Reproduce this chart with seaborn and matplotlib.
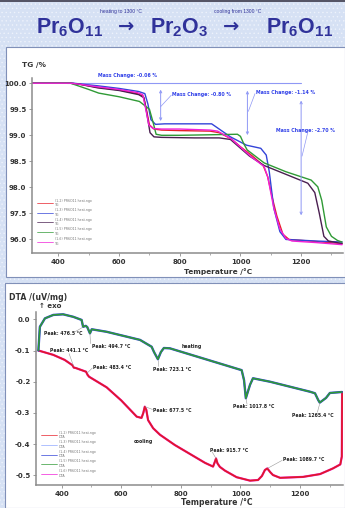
import numpy as np
import pandas as pd
import matplotlib
matplotlib.use("Agg")
import matplotlib.pyplot as plt
import seaborn as sns
from matplotlib.patches import Rectangle
from matplotlib.lines import Line2D
from matplotlib.ticker import MultipleLocator

# ---------------- TG data (temperature in degC, mass in %) ----------------
tg_red_T = [313, 440, 470, 530, 600, 660, 680, 690, 700, 715, 740, 800, 900, 930, 970, 1000, 1040, 1075, 1090, 1105, 1120, 1140, 1160, 1250, 1335]
tg_red_v = [100, 100, 99.98, 99.92, 99.87, 99.8, 99.75, 99.5, 99.2, 99.12, 99.1, 99.09, 99.08, 99.05, 98.93, 98.78, 98.6, 98.42, 98.2, 97.8, 97.45, 97.1, 97.0, 96.96, 96.92]

tg_mag_T = [313, 440, 470, 530, 600, 660, 678, 688, 698, 712, 740, 800, 900, 925, 970, 1035, 1078, 1090, 1110, 1130, 1150, 1170, 1250, 1335]
tg_mag_v = [100, 100, 99.98, 99.93, 99.88, 99.82, 99.78, 99.5, 99.2, 99.13, 99.12, 99.12, 99.1, 99.08, 98.93, 98.59, 98.4, 98.2, 97.6, 97.2, 97.02, 96.97, 96.94, 96.9]

tg_blue_T = [313, 450, 480, 530, 600, 665, 685, 695, 705, 720, 750, 850, 905, 920, 967, 1020, 1067, 1085, 1095, 1110, 1130, 1150, 1250, 1335]
tg_blue_v = [100, 100, 99.98, 99.95, 99.9, 99.84, 99.8, 99.6, 99.3, 99.21, 99.22, 99.22, 99.22, 99.16, 98.97, 98.81, 98.75, 98.62, 98.3, 97.6, 97.15, 97.0, 96.97, 96.95]

tg_green_T = [313, 440, 470, 500, 533, 600, 667, 700, 712, 722, 740, 800, 900, 990, 1000, 1010, 1022, 1078, 1150, 1233, 1255, 1268, 1283, 1300, 1320, 1335]
tg_green_v = [100, 100, 99.94, 99.88, 99.81, 99.74, 99.65, 99.5, 99.25, 99.02, 99.0, 99.0, 99.01, 99.02, 98.98, 98.85, 98.72, 98.47, 98.3, 98.14, 98.01, 97.75, 97.24, 97.06, 96.98, 96.95]

tg_dark_T = [313, 440, 470, 530, 600, 665, 682, 692, 702, 715, 740, 850, 930, 967, 1030, 1078, 1150, 1222, 1245, 1260, 1275, 1290, 1335]
tg_dark_v = [100, 100, 99.98, 99.91, 99.86, 99.78, 99.72, 99.4, 99.05, 98.97, 98.96, 98.95, 98.95, 98.92, 98.6, 98.42, 98.25, 98.08, 97.9, 97.5, 97.06, 96.97, 96.92]

tg_yticks = [100.0, 99.5, 99.0, 98.5, 98.0, 97.5, 97.0]
tg_ylabels = ["100.0", "99.5", "99.0", "98.5", "98.0", "97.5", "96.0"]

# ---------------- DTA data (uV/mg) ----------------
dta_heat_T = [322, 327, 344, 372, 405, 439, 467, 472, 481, 486, 495, 501, 551, 663, 702, 710, 723, 733, 743, 763,
              1004, 1012, 1018, 1032, 1042, 1099, 1233, 1250, 1261, 1266, 1287, 1300, 1340]
dta_heat_v = [-0.10, -0.024, 0.003, 0.014, 0.016, 0.008, -0.002, -0.024, -0.021, -0.025, -0.045, -0.032, -0.04, -0.066, -0.088, -0.105, -0.128, -0.105, -0.092, -0.093,
              -0.163, -0.195, -0.253, -0.21, -0.189, -0.20, -0.232, -0.237, -0.259, -0.267, -0.252, -0.236, -0.233]

dta_cool_T = [322, 340, 372, 410, 436, 441, 447, 482, 487, 492, 551, 600, 652, 668, 674, 679, 684, 690, 707, 730, 780, 881,
              908, 914, 918, 923, 931, 948, 987, 1032, 1059, 1072, 1082, 1090, 1100, 1109, 1133, 1210, 1267, 1310, 1335, 1340, 1341]
dta_cool_v = [-0.10, -0.105, -0.114, -0.13, -0.147, -0.155, -0.156, -0.168, -0.178, -0.184, -0.218, -0.26, -0.312, -0.316, -0.30, -0.28, -0.29, -0.323, -0.349, -0.37, -0.403, -0.46,
              -0.472, -0.457, -0.446, -0.462, -0.473, -0.485, -0.506, -0.517, -0.515, -0.502, -0.483, -0.478, -0.49, -0.499, -0.508, -0.505, -0.496, -0.478, -0.465, -0.44, -0.233]

dta_yticks = [0.0, -0.1, -0.2, -0.3, -0.4, -0.5]
dta_ylabels = ["0.0", "-0.1", "-0.2", "-0.3", "-0.4", "-0.5"]
x_ticks = [400, 600, 800, 1000, 1200]

tg_legend = ["(1-2) PR6O11 heat.ngo\nTG", "(1-3) PR6O11 heat.ngo\nTG", "(1-4) PR6O11 heat.ngo\nTG",
             "(1-5) PR6O11 heat.ngo\nTG", "(1-6) PR6O11 heat.ngo\nTG"]
dta_legend = ["(1-2) PR6O11 heat.ngo\nDTA", "(1-3) PR6O11 heat.ngo\nDTA", "(1-4) PR6O11 heat.ngo\nDTA",
              "(1-5) PR6O11 heat.ngo\nDTA", "(1-6) PR6O11 heat.ngo\nDTA"]

C_RED, C_BLUE, C_DARK, C_GREEN, C_MAG = "#e8202a", "#3344d8", "#4a1f50", "#2f9a35", "#f020d8"
TITLE_C = "#30329a"
ANN_C = "#3040e8"

sns.set_theme(style="ticks")
plt.rcParams['font.family'] = ['DejaVu Sans']
plt.rcParams['hatch.linewidth'] = 0.5
plt.rcParams['mathtext.fontset'] = 'custom'
plt.rcParams['mathtext.rm'] = 'Liberation Sans'
plt.rcParams['mathtext.bf'] = 'Liberation Sans:bold'
plt.rcParams['mathtext.it'] = 'Liberation Sans:italic'

W, H = 345, 508
fig = plt.figure(figsize=(W / 100, H / 100), dpi=100)
fig.patch.set_facecolor('#d6e1f4')

def fx(x):
    return x / W

def fy(y):
    return 1 - y / H

fig.patches.append(Rectangle((0, 0), 1, 1, transform=fig.transFigure, facecolor='none',
                             edgecolor='#edf2fb', hatch='....', lw=0, zorder=-3))
fig.patches.append(Rectangle((0, fy(1.5)), 1, 1.5 / H, transform=fig.transFigure,
                             facecolor='#555566', lw=0, zorder=-2))
fig.patches.append(Rectangle((fx(6), fy(277)), fx(345) - fx(6), (277 - 47) / H, transform=fig.transFigure,
                             facecolor='white', edgecolor='#8090b8', lw=0.8, zorder=-1))
fig.patches.append(Rectangle((fx(5), fy(508)), fx(345) - fx(5), (508 - 283) / H, transform=fig.transFigure,
                             facecolor='white', edgecolor='#8090b8', lw=0.8, zorder=-1))

# ---------------- Title ----------------
TB = dict(ha='center', va='baseline', fontsize=15.5, color=TITLE_C)
fig.text(fx(70), fy(33), r"$\mathbf{Pr_6O_{11}}$", **TB)
fig.text(fx(126), fy(32), "→", ha='center', va='baseline', fontsize=14, fontweight='bold', color=TITLE_C)
fig.text(fx(179), fy(33), r"$\mathbf{Pr_2O_3}$", **TB)
fig.text(fx(231), fy(32), "→", ha='center', va='baseline', fontsize=14, fontweight='bold', color=TITLE_C)
fig.text(fx(300), fy(33), r"$\mathbf{Pr_6O_{11}}$", **TB)
fig.text(fx(121), fy(11), "heating to 1300 °C", ha='center', va='center', fontsize=3.6,
         family='Liberation Sans', color=TITLE_C)
fig.text(fx(238), fy(11), "cooling from 1300 °C", ha='center', va='center', fontsize=3.6,
         family='Liberation Sans', color=TITLE_C)


def style_axes(ax):
    ax.set_facecolor('none')
    for s in ['top', 'right']:
        ax.spines[s].set_visible(False)
    for s in ['left', 'bottom']:
        ax.spines[s].set_color('#8c8c8c')
        ax.spines[s].set_linewidth(1.1)
    ax.tick_params(axis='both', which='major', length=2.5, width=0.6, color='#8c8c8c', pad=1.5,
                   labelsize=5, labelcolor='#333333')
    ax.tick_params(axis='both', which='minor', length=1.5, width=0.5, color='#8c8c8c')
    for lab in ax.get_xticklabels() + ax.get_yticklabels():
        lab.set_fontweight('bold')
    ax.xaxis.set_minor_locator(MultipleLocator(100))


# ---------------- TG axes ----------------
ax1 = fig.add_axes([fx(32), fy(253), (343 - 32) / W, (253 - 78) / H])
tg_series = [(tg_red_T, tg_red_v, C_RED), (tg_blue_T, tg_blue_v, C_BLUE), (tg_dark_T, tg_dark_v, C_DARK),
             (tg_green_T, tg_green_v, C_GREEN), (tg_mag_T, tg_mag_v, C_MAG)]
for (T, v, c), lab in zip(tg_series, tg_legend):
    sns.lineplot(x=T, y=v, ax=ax1, color=c, lw=1.0, sort=False, label=lab)
ax1.set_xlim(313, 1338)
ax1.set_ylim(96.74, 100.1)
ax1.set_xticks(x_ticks)
ax1.set_xticklabels([str(t) for t in x_ticks])
ax1.set_yticks(tg_yticks)
ax1.set_yticklabels(tg_ylabels)
style_axes(ax1)
ax1.set_xlabel("Temperature /°C", fontsize=5.3, fontweight='bold', color='#333333', labelpad=1)
ax1.xaxis.set_label_coords((218 - 32) / 311, -0.085)
ax1.set_ylabel("")
leg1 = ax1.legend(loc='lower left', bbox_to_anchor=(0.01, 0.03), fontsize=2.3, frameon=False,
                  handlelength=5, handletextpad=0.4, labelspacing=0.3, borderpad=0.2)
for t in leg1.get_texts():
    t.set_color('#777777')
for l in leg1.get_lines():
    l.set_linewidth(0.5)
fig.text(fx(22), fy(65), "TG /%", fontsize=5.3, fontweight='bold', color='#333333', va='center')

# Mass-change annotations
ax1.plot([430, 1200], [100.0, 100.0], color='#8f98f5', lw=0.8, zorder=1)
ax1.text(529, 100.14, "Mass Change: -0.06 %", fontsize=3.4, color=ANN_C, fontweight='bold', va='center', clip_on=False)
ax1.annotate("", xy=(737, 99.22), xytext=(737, 99.93),
             arrowprops=dict(arrowstyle='<->', color='#8f98f5', lw=0.7, mutation_scale=4))
ax1.plot([737, 772], [99.55, 99.77], color='#8f98f5', lw=0.5)
ax1.text(776, 99.79, "Mass Change: -0.80 %", fontsize=3.4, color=ANN_C, fontweight='bold', va='center')
ax1.annotate("", xy=(1023, 98.95), xytext=(1023, 99.91),
             arrowprops=dict(arrowstyle='<->', color='#8f98f5', lw=0.7, mutation_scale=4))
ax1.plot([1026, 1048], [99.46, 99.8], color='#8f98f5', lw=0.5)
ax1.text(1052, 99.82, "Mass Change: -1.14 %", fontsize=3.4, color=ANN_C, fontweight='bold', va='center')
ax1.annotate("", xy=(1200, 97.41), xytext=(1200, 99.72),
             arrowprops=dict(arrowstyle='<->', color='#8f98f5', lw=0.7, mutation_scale=4))
ax1.plot([1203, 1222], [98.6, 99.06], color='#8f98f5', lw=0.5)
ax1.text(1117, 99.1, "Mass Change: -2.70 %", fontsize=3.4, color=ANN_C, fontweight='bold', va='center')

# ---------------- DTA axes ----------------
ax2 = fig.add_axes([fx(36), fy(485), (343 - 36) / W, (485 - 312) / H])
sns.lineplot(x=dta_cool_T, y=dta_cool_v, ax=ax2, color=C_MAG, lw=1.6, sort=False)
sns.lineplot(x=dta_cool_T, y=dta_cool_v, ax=ax2, color="#e0182a", lw=1.25, sort=False)
sns.lineplot(x=dta_heat_T, y=dta_heat_v, ax=ax2, color=C_BLUE, lw=1.7, sort=False)
sns.lineplot(x=dta_heat_T, y=dta_heat_v, ax=ax2, color=C_GREEN, lw=1.15, sort=False)
ax2.set_xlim(314, 1344)
ax2.set_ylim(-0.531, 0.0234)
ax2.set_xticks(x_ticks)
ax2.set_xticklabels([str(t) for t in x_ticks])
ax2.set_yticks(dta_yticks)
ax2.set_yticklabels(dta_ylabels)
style_axes(ax2)
ax2.set_xlabel("Temperature /°C", fontsize=5.6, fontweight='bold', color='#333333')
ax2.xaxis.set_label_coords((217 - 36) / 307, -0.075)
ax2.set_ylabel("")
dh = [Line2D([], [], color=c, lw=0.5) for c in [C_RED, '#8fa8ff', C_BLUE, C_GREEN, C_MAG]]
leg2 = ax2.legend(dh, dta_legend, loc='lower left', bbox_to_anchor=(0.01, 0.03), fontsize=2.3, frameon=False,
                  handlelength=5, handletextpad=0.4, labelspacing=0.3, borderpad=0.2)
for t in leg2.get_texts():
    t.set_color('#777777')
fig.text(fx(9), fy(297), "DTA /(uV/mg)", fontsize=5.6, fontweight='bold', color='#333333', va='center')
fig.text(fx(39), fy(306), "↑ exo", fontsize=5, fontweight='bold', color='#333333', va='center')

PK = dict(fontsize=3.3, color='#222222', fontweight='bold', va='center')
LL = dict(color='#999999', lw=0.4)
ax2.text(340, -0.044, "Peak: 476.5 °C", **PK)
ax2.plot([445, 470], [-0.04, -0.026], **LL)
ax2.text(502, -0.086, "Peak: 494.7 °C", **PK)
ax2.plot([497, 495], [-0.078, -0.047], **LL)
ax2.text(361, -0.099, "Peak: 441.1 °C", **PK)
ax2.plot([425, 440], [-0.11, -0.15], **LL)
ax2.text(505, -0.156, "Peak: 483.4 °C", **PK)
ax2.plot([503, 486], [-0.156, -0.172], **LL)
ax2.text(707, -0.162, "Peak: 723.1 °C", **PK)
ax2.plot([723, 723], [-0.15, -0.13], **LL)
ax2.text(804, -0.086, "heating", **PK)
ax2.text(707, -0.291, "Peak: 677.5 °C", **PK)
ax2.plot([680, 705], [-0.28, -0.289], **LL)
ax2.text(643, -0.39, "cooling", **PK)
ax2.text(898, -0.42, "Peak: 915.7 °C", **PK)
ax2.plot([918, 905], [-0.446, -0.425], **LL)
ax2.text(1143, -0.45, "Peak: 1089.7 °C", **PK)
ax2.plot([1092, 1140], [-0.477, -0.452], **LL)
ax2.text(975, -0.281, "Peak: 1017.8 °C", **PK)
ax2.plot([1019, 1022], [-0.255, -0.272], **LL)
ax2.text(1173, -0.307, "Peak: 1265.4 °C", **PK)
ax2.plot([1266, 1258], [-0.27, -0.298], **LL)

fig.savefig("out.png", dpi=100, facecolor=fig.get_facecolor())
